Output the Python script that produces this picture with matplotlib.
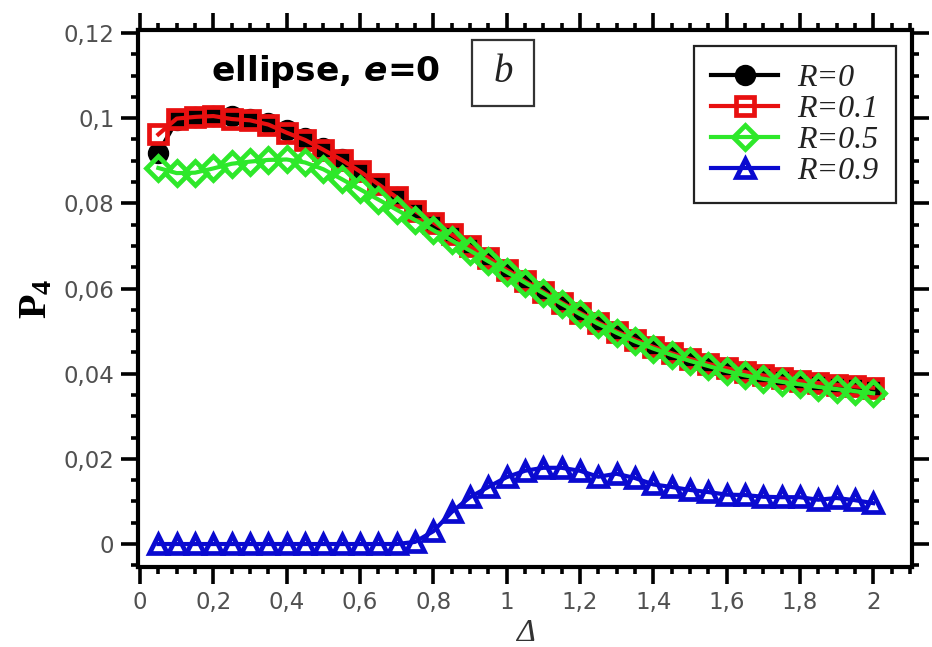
import matplotlib
matplotlib.use("Agg")
import matplotlib.pyplot as plt
from matplotlib.patches import Rectangle
from matplotlib.ticker import FixedLocator, MultipleLocator, FuncFormatter

# Delta values, 0.05 .. 2.0
delta = [0.05, 0.1, 0.15, 0.2, 0.25, 0.3, 0.35, 0.4, 0.45, 0.5,
         0.55, 0.6, 0.65, 0.7, 0.75, 0.8, 0.85, 0.9, 0.95, 1.0,
         1.05, 1.1, 1.15, 1.2, 1.25, 1.3, 1.35, 1.4, 1.45, 1.5,
         1.55, 1.6, 1.65, 1.7, 1.75, 1.8, 1.85, 1.9, 1.95, 2.0]

p4_r0 = [0.0918, 0.0995, 0.1002, 0.1006, 0.1004, 0.0998, 0.0988, 0.0973, 0.0953, 0.0930,
         0.0904, 0.0876, 0.0846, 0.0815, 0.0783, 0.0755, 0.0727, 0.0699, 0.0672, 0.0644,
         0.0617, 0.0592, 0.0567, 0.0543, 0.0520, 0.0499, 0.0480, 0.0463, 0.0448, 0.0435,
         0.0423, 0.0413, 0.0404, 0.0396, 0.0389, 0.0383, 0.0378, 0.0374, 0.0370, 0.0367]

p4_r01 = [0.0962, 0.0999, 0.1003, 0.1005, 0.0998, 0.0995, 0.0985, 0.0966, 0.0949, 0.0926,
          0.0902, 0.0875, 0.0845, 0.0814, 0.0782, 0.0755, 0.0727, 0.0699, 0.0672, 0.0644,
          0.0617, 0.0592, 0.0567, 0.0543, 0.0520, 0.0499, 0.0480, 0.0463, 0.0448, 0.0435,
          0.0423, 0.0413, 0.0404, 0.0396, 0.0389, 0.0383, 0.0378, 0.0374, 0.0370, 0.0367]

p4_r05 = [0.0883, 0.0871, 0.0872, 0.0882, 0.0893, 0.0898, 0.0902, 0.0903, 0.0896, 0.0880,
          0.0857, 0.0833, 0.0809, 0.0785, 0.0761, 0.0737, 0.0713, 0.0689, 0.0664, 0.0639,
          0.0614, 0.0589, 0.0564, 0.0540, 0.0517, 0.0496, 0.0476, 0.0459, 0.0444, 0.0430,
          0.0418, 0.0406, 0.0396, 0.0388, 0.0381, 0.0375, 0.0369, 0.0364, 0.0359, 0.0354]

p4_r09 = [0.0, 0.0, 0.0, 0.0, 0.0, 0.0, 0.0, 0.0, 0.0, 0.0,
          0.0, 0.0, 0.0, 0.0, 0.0005, 0.0030, 0.0075, 0.0110, 0.0134, 0.0157,
          0.0172, 0.0179, 0.0179, 0.0172, 0.0158, 0.0165, 0.0155, 0.0140, 0.0134, 0.0127,
          0.0122, 0.0116, 0.0115, 0.0111, 0.0110, 0.0110, 0.0104, 0.0108, 0.0103, 0.0096]

labels = ["R=0", "R=0.1", "R=0.5", "R=0.9"]
x_ticks = [0, 0.2, 0.4, 0.6, 0.8, 1, 1.2, 1.4, 1.6, 1.8, 2]
y_ticks = [0, 0.02, 0.04, 0.06, 0.08, 0.1, 0.12]

plt.rcParams['mathtext.fontset'] = 'custom'
plt.rcParams['mathtext.bf'] = 'Liberation Serif:bold'
plt.rcParams['mathtext.it'] = 'DejaVu Sans:italic:bold'
plt.rcParams['mathtext.rm'] = 'DejaVu Sans:bold'

fig = plt.figure(figsize=(9.32, 6.47), dpi=100)
ax = fig.add_axes([0.1481, 0.1236, 0.8305, 0.830])

series = [p4_r0, p4_r01, p4_r05, p4_r09]
colors = ["#000000", "#e81010", "#2ee82a", "#0a0ad0"]
markers = ["o", "s", "D", "^"]
sizes = [12, 13.5, 12, 13]
for vals, col, mk, ms, lab in zip(series, colors, markers, sizes, labels):
    filled = col if mk == "o" else "none"
    ax.plot(delta, vals, color=col, lw=3, marker=mk, ms=ms, mew=3.4,
            mfc=filled, mec=col, label=lab)

ax.set_xlim(-0.0055, 2.106)
ax.set_ylim(-0.0054, 0.1207)

ax.xaxis.set_major_locator(FixedLocator(x_ticks))
ax.yaxis.set_major_locator(FixedLocator(y_ticks))
ax.xaxis.set_minor_locator(MultipleLocator(0.05))
ax.yaxis.set_minor_locator(MultipleLocator(0.005))
fmt = FuncFormatter(lambda v, p: "{:g}".format(round(v, 4)).replace(".", ","))
ax.xaxis.set_major_formatter(fmt)
ax.yaxis.set_major_formatter(fmt)

ax.tick_params(which="both", direction="out", top=True, right=True,
               width=2.6, colors="black")
ax.tick_params(which="major", length=12, labelsize=16.5, labelcolor="#505050", pad=5)
ax.tick_params(which="minor", length=5)
for lbl in ax.get_xticklabels() + ax.get_yticklabels():
    lbl.set_family("DejaVu Sans")
for sp in ax.spines.values():
    sp.set_linewidth(3)

ax.set_ylabel(r"$\mathbf{P_4}$", fontsize=29, labelpad=6)
ax.set_xlabel("Δ", fontsize=23, family="Liberation Serif", style="italic",
              color="#333333", labelpad=4)

ax.text(0.094, 0.922, r"ellipse, $e$=0", transform=ax.transAxes, fontsize=24.8,
        family="DejaVu Sans", weight="bold", ha="left", va="center")

ax.add_patch(Rectangle((0.4315, 0.8585), 0.0801, 0.1229, transform=ax.transAxes,
                       fill=False, ec="#333333", lw=1.6))
ax.text(0.4716, 0.92, "b", transform=ax.transAxes, fontsize=28,
        family="Liberation Serif", style="italic", color="#222222",
        ha="center", va="center")

leg = ax.legend(loc="upper right", handlelength=2.1,
                handletextpad=0.6, labelspacing=0.05, borderpad=0.55,
                borderaxespad=0.5, fancybox=False, framealpha=1,
                prop={"family": "Liberation Serif", "style": "italic", "size": 23})
leg.get_frame().set_edgecolor("#222222")
leg.get_frame().set_linewidth(1.6)
for t in leg.get_texts():
    t.set_color("#222222")

fig.savefig("out.png", dpi=100)
